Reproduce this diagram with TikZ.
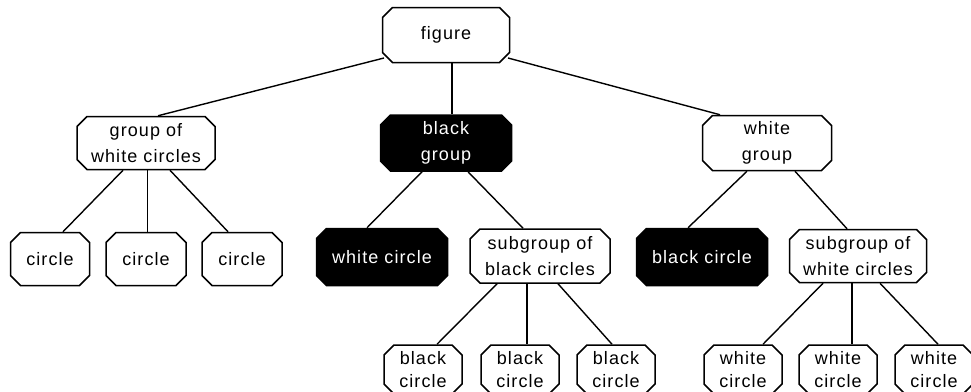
\documentclass[tikz,border=0pt]{standalone}
\usepackage{fontspec}
\setmainfont{Liberation Sans}[LetterSpace=6]
\usetikzlibrary{shapes.misc}
\begin{document}
\begin{tikzpicture}[x=1pt,y=-1pt,
  box/.style={chamfered rectangle,chamfered rectangle xsep=5pt,chamfered rectangle ysep=5pt,
    draw=black,line width=1.5pt,inner sep=0pt,align=center,
    font=\fontsize{18}{26}\selectfont},
  whitebox/.style={box,fill=white,text=black},
  blackbox/.style={box,fill=black,text=white},
  leafbox/.style={whitebox,minimum width=78pt,minimum height=49pt,
    font=\fontsize{18}{23}\selectfont},
  link/.style={line width=1.4pt}]
\useasboundingbox (0,0) rectangle (971,391);
\clip (0,0) rectangle (971,391);

% root and first level
\node[whitebox,minimum width=127pt,minimum height=55pt] (figure) at (446,35) {figure};
\node[whitebox,minimum width=138pt,minimum height=53pt] (gwc) at (146,143) {group of\\white circles};
\node[blackbox,minimum width=131pt,minimum height=56pt] (bg) at (446,143) {black\\group};
\node[whitebox,minimum width=129pt,minimum height=55pt] (wg) at (767,143) {white\\group};

% second level
\node[whitebox,minimum width=79pt,minimum height=53pt] (c1) at (50,259) {circle};
\node[whitebox,minimum width=80pt,minimum height=53pt] (c2) at (146,259) {circle};
\node[whitebox,minimum width=80pt,minimum height=53pt] (c3) at (242,259) {circle};
\node[blackbox,minimum width=131pt,minimum height=57pt] (wc) at (382,257) {white circle};
\node[whitebox,minimum width=140pt,minimum height=54pt] (sbc) at (540,256) {subgroup of\\black circles};
\node[blackbox,minimum width=131pt,minimum height=57pt] (bc) at (702,257) {black circle};
\node[whitebox,minimum width=137pt,minimum height=53pt] (swc) at (858,256) {subgroup of\\white circles};

% third level (boxes run past the lower edge)
\node[leafbox] (b1) at (423,369.5) {black\\circle};
\node[leafbox] (b2) at (520,369.5) {black\\circle};
\node[leafbox] (b3) at (616,369.5) {black\\circle};
\node[leafbox] (w1) at (743,369.5) {white\\circle};
\node[leafbox] (w2) at (838,369.5) {white\\circle};
\node[leafbox] (w3) at (934,369.5) {white\\circle};

% connectors
\draw[link] ([shift={(-62,23)}]figure.center) -- ([xshift=12pt]gwc.north);
\draw[link] ([xshift=6pt]figure.south) -- ([xshift=6pt]bg.north);
\draw[link] ([shift={(62,23)}]figure.center) -- ([xshift=-47pt]wg.north);

\draw[link] ([xshift=-23pt]gwc.south) -- ([xshift=13pt]c1.north);
\draw[link] ([xshift=1.5pt]gwc.south) -- ([xshift=1.5pt]c2.north);
\draw[link] ([xshift=24pt]gwc.south) -- ([xshift=-14pt]c3.north);

\draw[link] ([xshift=-24pt]bg.south) -- ([xshift=-15pt]wc.north);
\draw[link] ([xshift=22pt]bg.south) -- ([xshift=-17pt]sbc.north);

\draw[link] ([xshift=-20pt]wg.south) -- ([xshift=-14pt]bc.north);
\draw[link] ([xshift=28pt]wg.south) -- ([xshift=-11pt]swc.north);

\draw[link] ([xshift=-43pt]sbc.south) -- ([xshift=14pt]b1.north);
\draw[link] ([xshift=-13pt]sbc.south) -- ([xshift=7pt]b2.north);
\draw[link] ([xshift=18pt]sbc.south) -- ([xshift=-4pt]b3.north);

\draw[link] ([xshift=-35pt]swc.south) -- ([xshift=20pt]w1.north);
\draw[link] ([xshift=-6pt]swc.south) -- ([xshift=14pt]w2.north);
\draw[link] ([xshift=22pt]swc.south) -- ([xshift=4pt]w3.north);
\end{tikzpicture}
\end{document}
